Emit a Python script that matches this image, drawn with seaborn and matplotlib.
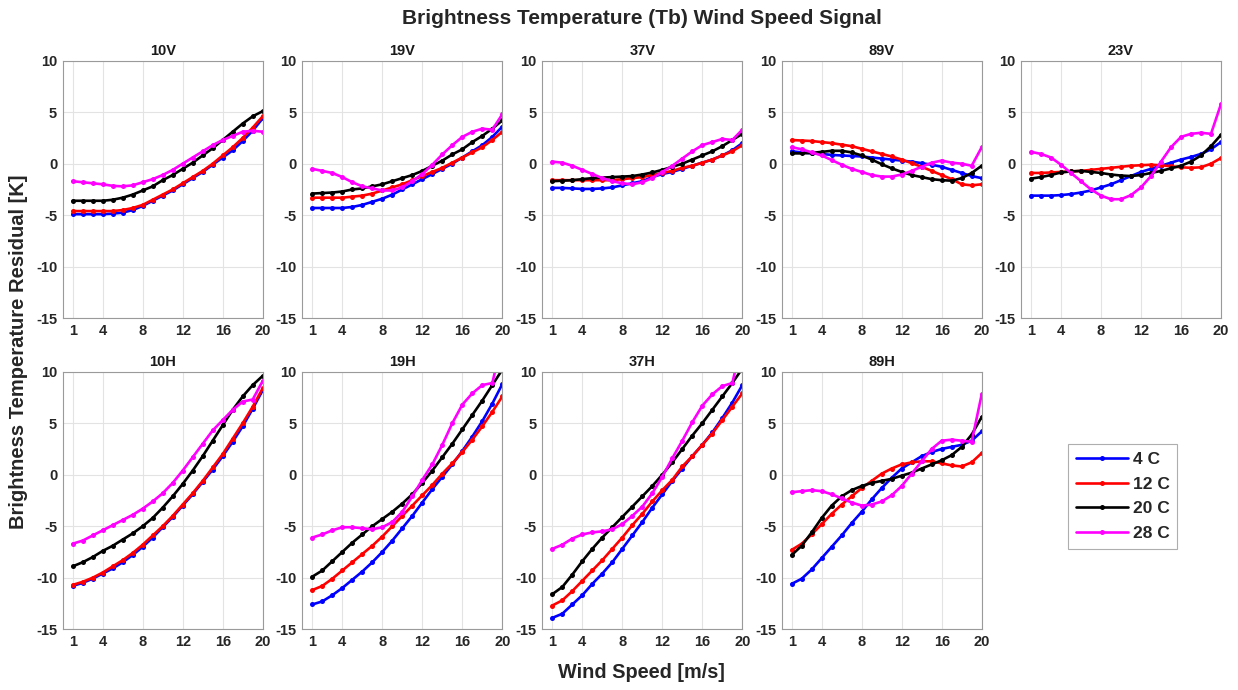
import matplotlib
matplotlib.use("Agg")
import matplotlib.pyplot as plt
from matplotlib.lines import Line2D
import numpy as np
import pandas as pd
import seaborn as sns

# ---------------- data ----------------
wind_speed = list(range(1, 21))
temperatures = ["4 C", "12 C", "20 C", "28 C"]
colors = ["#0000ff", "#ff0000", "#000000", "#ff00ff"]
panels = ["10V", "19V", "37V", "89V", "23V", "10H", "19H", "37H", "89H"]

tb_10V_4C = [-4.9, -4.9, -4.9, -4.9, -4.85, -4.75, -4.5, -4.1, -3.6, -3.1, -2.6, -2.0, -1.4, -0.8, -0.1, 0.6, 1.3, 2.2, 3.2, 4.4]
tb_10V_12C = [-4.6, -4.6, -4.6, -4.6, -4.6, -4.5, -4.3, -4.0, -3.5, -3.0, -2.5, -1.9, -1.3, -0.7, 0.0, 0.8, 1.6, 2.5, 3.5, 4.6]
tb_10V_20C = [-3.6, -3.6, -3.6, -3.6, -3.5, -3.3, -3.0, -2.6, -2.2, -1.6, -1.1, -0.5, 0.1, 0.8, 1.5, 2.3, 3.1, 3.9, 4.6, 5.1]
tb_10V_28C = [-1.7, -1.8, -1.9, -2.0, -2.15, -2.2, -2.1, -1.8, -1.5, -1.1, -0.6, 0.0, 0.6, 1.2, 1.8, 2.3, 2.7, 3.1, 3.2, 3.1]

tb_19V_4C = [-4.3, -4.3, -4.3, -4.3, -4.2, -4.0, -3.7, -3.4, -3.0, -2.5, -2.0, -1.5, -1.0, -0.5, 0.0, 0.6, 1.2, 1.8, 2.6, 3.6]
tb_19V_12C = [-3.3, -3.3, -3.3, -3.3, -3.2, -3.1, -2.9, -2.6, -2.3, -2.0, -1.6, -1.2, -0.8, -0.4, 0.1, 0.6, 1.1, 1.6, 2.3, 3.1]
tb_19V_20C = [-2.9, -2.85, -2.8, -2.7, -2.5, -2.4, -2.2, -2.0, -1.7, -1.4, -1.1, -0.7, -0.2, 0.3, 0.9, 1.4, 2.1, 2.7, 3.4, 4.2]
tb_19V_28C = [-0.5, -0.7, -0.9, -1.3, -1.8, -2.2, -2.4, -2.6, -2.6, -2.3, -1.7, -1.0, -0.1, 0.9, 1.8, 2.6, 3.1, 3.4, 3.3, 4.8]

tb_37V_4C = [-2.35, -2.35, -2.4, -2.45, -2.45, -2.4, -2.3, -2.1, -1.9, -1.7, -1.3, -1.0, -0.8, -0.5, -0.2, 0.1, 0.4, 0.8, 1.3, 2.0]
tb_37V_12C = [-1.6, -1.6, -1.6, -1.6, -1.6, -1.6, -1.6, -1.5, -1.4, -1.3, -1.1, -0.9, -0.7, -0.4, -0.2, 0.1, 0.4, 0.8, 1.2, 1.8]
tb_37V_20C = [-1.7, -1.65, -1.6, -1.5, -1.4, -1.35, -1.3, -1.25, -1.2, -1.05, -0.85, -0.6, -0.3, 0.0, 0.4, 0.8, 1.2, 1.7, 2.3, 2.9]
tb_37V_28C = [0.2, 0.1, -0.2, -0.6, -1.0, -1.4, -1.7, -1.9, -2.0, -1.8, -1.4, -0.8, -0.2, 0.5, 1.2, 1.8, 2.1, 2.4, 2.3, 3.3]

tb_89V_4C = [1.2, 1.1, 1.0, 0.95, 0.85, 0.8, 0.75, 0.7, 0.6, 0.5, 0.4, 0.3, 0.2, 0.05, -0.1, -0.3, -0.6, -0.9, -1.2, -1.4]
tb_89V_12C = [2.3, 2.25, 2.2, 2.1, 2.0, 1.85, 1.7, 1.45, 1.2, 0.95, 0.7, 0.4, 0.05, -0.3, -0.7, -1.1, -1.5, -2.0, -2.1, -2.0]
tb_89V_20C = [1.0, 1.0, 1.05, 1.15, 1.25, 1.25, 1.1, 0.8, 0.4, -0.05, -0.45, -0.8, -1.1, -1.3, -1.5, -1.6, -1.65, -1.4, -0.9, -0.2]
tb_89V_28C = [1.6, 1.4, 1.1, 0.8, 0.35, -0.1, -0.5, -0.8, -1.1, -1.25, -1.25, -1.05, -0.7, -0.3, 0.1, 0.3, 0.1, 0.0, -0.2, 1.6]

tb_23V_4C = [-3.1, -3.1, -3.1, -3.05, -2.95, -2.8, -2.6, -2.3, -2.0, -1.6, -1.2, -0.8, -0.5, -0.2, 0.1, 0.4, 0.65, 0.95, 1.4, 2.1]
tb_23V_12C = [-0.9, -0.9, -0.85, -0.8, -0.75, -0.7, -0.6, -0.5, -0.4, -0.3, -0.2, -0.15, -0.1, -0.15, -0.25, -0.35, -0.4, -0.35, 0.0, 0.55]
tb_23V_20C = [-1.45, -1.3, -1.1, -0.85, -0.75, -0.7, -0.8, -0.9, -1.05, -1.15, -1.2, -1.1, -0.9, -0.7, -0.45, -0.2, 0.2, 0.8, 1.7, 2.8]
tb_23V_28C = [1.15, 0.95, 0.6, -0.1, -0.9, -1.7, -2.5, -3.1, -3.45, -3.45, -3.05, -2.3, -1.2, 0.2, 1.6, 2.6, 2.9, 3.0, 2.9, 5.8]

tb_10H_4C = [-10.8, -10.5, -10.1, -9.6, -9.1, -8.5, -7.8, -7.0, -6.1, -5.1, -4.1, -3.0, -1.9, -0.7, 0.5, 1.8, 3.2, 4.7, 6.4, 8.2]
tb_10H_12C = [-10.7, -10.4, -10.0, -9.5, -8.9, -8.3, -7.6, -6.8, -5.9, -5.0, -4.0, -2.9, -1.8, -0.6, 0.7, 2.0, 3.5, 5.0, 6.6, 8.4]
tb_10H_20C = [-8.9, -8.5, -8.0, -7.4, -6.9, -6.3, -5.7, -5.0, -4.2, -3.2, -2.1, -0.9, 0.4, 1.8, 3.3, 4.8, 6.3, 7.6, 8.7, 9.6]
tb_10H_28C = [-6.7, -6.4, -5.9, -5.4, -4.9, -4.4, -3.9, -3.3, -2.6, -1.8, -0.8, 0.4, 1.7, 3.0, 4.3, 5.3, 6.3, 7.1, 7.3, 9.1]

tb_19H_4C = [-12.6, -12.3, -11.7, -11.0, -10.2, -9.4, -8.5, -7.5, -6.4, -5.2, -4.0, -2.7, -1.4, -0.2, 1.0, 2.3, 3.7, 5.2, 6.9, 8.8]
tb_19H_12C = [-11.2, -10.8, -10.1, -9.3, -8.5, -7.7, -6.9, -6.0, -5.0, -4.0, -3.0, -2.0, -1.0, 0.1, 1.1, 2.2, 3.4, 4.7, 6.1, 7.6]
tb_19H_20C = [-9.9, -9.3, -8.4, -7.5, -6.6, -5.8, -5.0, -4.3, -3.6, -2.8, -1.9, -0.8, 0.4, 1.7, 3.0, 4.4, 5.8, 7.2, 8.7, 10.2]
tb_19H_28C = [-6.1, -5.8, -5.4, -5.1, -5.1, -5.2, -5.3, -5.1, -4.6, -3.6, -2.1, -0.5, 1.0, 2.9, 5.0, 6.8, 7.9, 8.7, 8.9, 13.0]

tb_37H_4C = [-13.9, -13.5, -12.6, -11.7, -10.6, -9.6, -8.5, -7.2, -5.9, -4.6, -3.2, -1.9, -0.6, 0.6, 1.8, 2.9, 4.1, 5.5, 7.0, 8.7]
tb_37H_12C = [-12.7, -12.2, -11.3, -10.3, -9.3, -8.3, -7.2, -6.1, -4.9, -3.8, -2.6, -1.5, -0.5, 0.8, 1.8, 2.9, 4.0, 5.3, 6.6, 7.9]
tb_37H_20C = [-11.6, -10.9, -9.7, -8.4, -7.2, -6.1, -5.1, -4.1, -3.1, -2.1, -1.1, 0.0, 1.2, 2.5, 3.8, 5.0, 6.3, 7.6, 8.9, 10.3]
tb_37H_28C = [-7.2, -6.8, -6.2, -5.8, -5.6, -5.5, -5.3, -4.8, -4.0, -3.1, -1.8, -0.2, 1.6, 3.3, 5.1, 6.7, 7.8, 8.6, 8.9, 13.0]

tb_89H_4C = [-10.6, -10.1, -9.2, -8.1, -7.0, -5.9, -4.7, -3.6, -2.4, -1.3, -0.3, 0.6, 1.2, 1.8, 2.2, 2.5, 2.7, 2.9, 3.3, 4.2]
tb_89H_12C = [-7.3, -6.7, -5.8, -4.8, -3.8, -2.9, -2.1, -1.3, -0.6, 0.1, 0.6, 1.0, 1.2, 1.3, 1.3, 1.1, 0.9, 0.8, 1.2, 2.1]
tb_89H_20C = [-7.8, -6.9, -5.6, -4.2, -3.0, -2.1, -1.5, -1.1, -0.8, -0.6, -0.4, -0.1, 0.2, 0.6, 1.0, 1.4, 1.9, 2.7, 3.9, 5.6]
tb_89H_28C = [-1.7, -1.6, -1.5, -1.6, -1.9, -2.3, -2.7, -3.0, -2.9, -2.6, -2.0, -1.1, 0.1, 1.3, 2.5, 3.3, 3.4, 3.3, 3.2, 7.8]

x_ticks = [1, 4, 8, 12, 16, 20]
y_ticks = [-15, -10, -5, 0, 5, 10]

series = {
    "10V": [tb_10V_4C, tb_10V_12C, tb_10V_20C, tb_10V_28C],
    "19V": [tb_19V_4C, tb_19V_12C, tb_19V_20C, tb_19V_28C],
    "37V": [tb_37V_4C, tb_37V_12C, tb_37V_20C, tb_37V_28C],
    "89V": [tb_89V_4C, tb_89V_12C, tb_89V_20C, tb_89V_28C],
    "23V": [tb_23V_4C, tb_23V_12C, tb_23V_20C, tb_23V_28C],
    "10H": [tb_10H_4C, tb_10H_12C, tb_10H_20C, tb_10H_28C],
    "19H": [tb_19H_4C, tb_19H_12C, tb_19H_20C, tb_19H_28C],
    "37H": [tb_37H_4C, tb_37H_12C, tb_37H_20C, tb_37H_28C],
    "89H": [tb_89H_4C, tb_89H_12C, tb_89H_20C, tb_89H_28C],
}

rows = []
for p in panels:
    for t, vals in zip(temperatures, series[p]):
        for w, v in zip(wind_speed, vals):
            rows.append({"panel": p, "temp": t, "wind": w, "tb": v})
df = pd.DataFrame(rows)

# ---------------- style ----------------
sns.set_style("white")
plt.rcParams["font.family"] = ["Liberation Sans", "DejaVu Sans"]
plt.rcParams["font.weight"] = "bold"
plt.rcParams["axes.unicode_minus"] = False

W, H = 1238, 690
fig = plt.figure(figsize=(W / 100, H / 100), dpi=100)

col_left = [62.7, 302.3, 542.3, 781.7, 1021.0]
ax_w = 200.0
row_top = [60.7, 371.7]
ax_h = 257.5

palette = dict(zip(temperatures, colors))
tick_color = "#262626"
spine_color = "#9a9a9a"

for i, p in enumerate(panels):
    r, c = divmod(i, 5)
    left = col_left[c] / W
    bottom = 1 - (row_top[r] + ax_h) / H
    ax = fig.add_axes([left, bottom, ax_w / W, ax_h / H])
    sub = df[df["panel"] == p]
    sns.lineplot(data=sub, x="wind", y="tb", hue="temp", hue_order=temperatures,
                 palette=palette, marker="o", markersize=3.6, markeredgewidth=0,
                 linewidth=1.9, errorbar=None, legend=False, ax=ax)
    ax.set_xlim(0, 20)
    ax.set_ylim(-15, 10)
    ax.set_xticks(x_ticks)
    ax.set_yticks(y_ticks)
    ax.grid(True, color="#e3e3e3", linewidth=0.8)
    ax.set_axisbelow(True)
    for s in ax.spines.values():
        s.set_color(spine_color)
        s.set_linewidth(0.8)
    ax.tick_params(direction="in", length=3, width=0.6, color=spine_color,
                   labelcolor=tick_color, labelsize=10.5, pad=4)
    for lab in ax.get_xticklabels() + ax.get_yticklabels():
        lab.set_fontweight("bold")
    ax.set_xlabel("")
    ax.set_ylabel("")
    ax.set_title(p, fontsize=10.5, fontweight="bold", color="#1a1a1a", pad=4)

handles = [Line2D([0], [0], color=c, linewidth=1.9, marker="o", markersize=3.6,
                  markeredgewidth=0) for c in colors]
leg = fig.legend(handles, temperatures, loc="upper left",
                 bbox_to_anchor=(1067.7 / W, 1 - 444 / H),
                 frameon=True, fancybox=False, edgecolor="#9a9a9a",
                 prop={"weight": "bold", "size": 12.5}, handlelength=3.0,
                 borderaxespad=0, labelspacing=0.55, handletextpad=0.3,
                 borderpad=0.45)
leg.get_frame().set_linewidth(0.8)

fig.text(641.7 / W, 1 - 19 / H, "Brightness Temperature (Tb) Wind Speed Signal",
         ha="center", va="center", fontsize=15, fontweight="bold", color="#262626")
fig.text(641.7 / W, 1 - 673 / H, "Wind Speed [m/s]", ha="center", va="center",
         fontsize=14.3, fontweight="bold", color="#262626")
fig.text(19 / W, 1 - 352 / H, "Brightness Temperature Residual [K]", ha="center",
         va="center", rotation=90, fontsize=14.5, fontweight="bold", color="#262626")

fig.savefig("out.png", dpi=100)
